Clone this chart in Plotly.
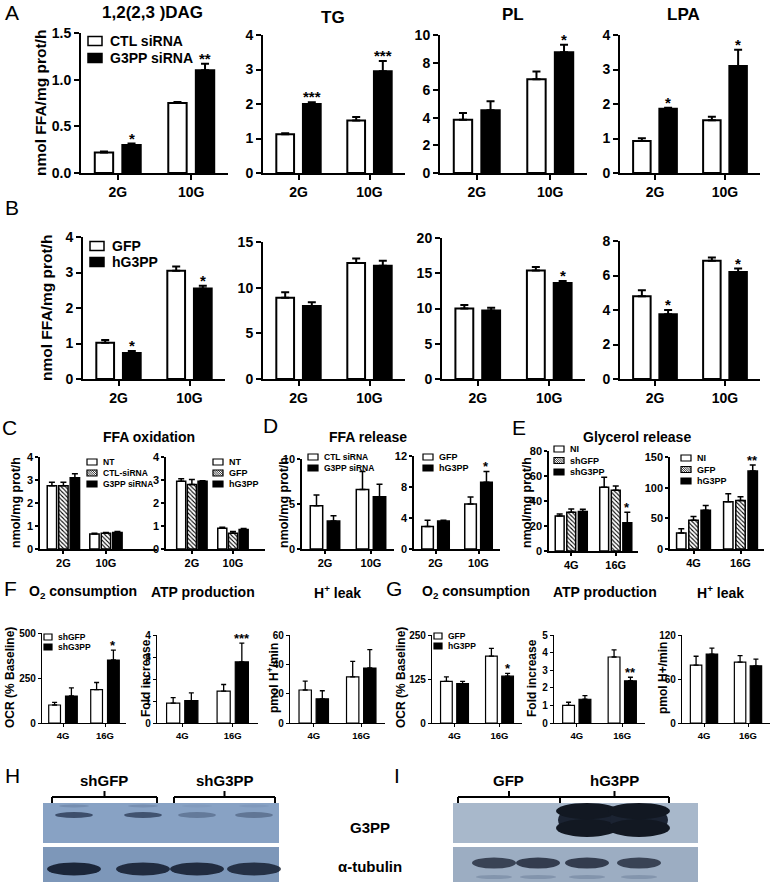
import plotly.graph_objects as go

W, H = 774, 887
FONT = "Liberation Sans, Arial, sans-serif"

# ---------------- data ----------------
glc_low_high = ["2G", "10G"]
glc_4_16 = ["4G", "16G"]

# A : siRNA knock-down (nmol FFA/mg prot/h)
dag_ctl = [0.22, 0.75]; dag_ctl_err = [0.01, 0.01]
dag_kd = [0.30, 1.10]; dag_kd_err = [0.015, 0.07]; dag_kd_sig = ["*", "**"]
tg_ctl = [1.12, 1.52]; tg_ctl_err = [0.03, 0.10]
tg_kd = [2.00, 2.95]; tg_kd_err = [0.05, 0.30]; tg_kd_sig = ["***", "***"]
pl_ctl = [3.85, 6.80]; pl_ctl_err = [0.50, 0.55]
pl_kd = [4.55, 8.75]; pl_kd_err = [0.65, 0.55]; pl_kd_sig = ["", "*"]
lpa_ctl = [0.93, 1.53]; lpa_ctl_err = [0.08, 0.10]
lpa_kd = [1.86, 3.10]; lpa_kd_err = [0.03, 0.47]; lpa_kd_sig = ["*", "*"]

# B : overexpression
dagB_gfp = [1.02, 3.05]; dagB_gfp_err = [0.08, 0.12]
dagB_oe = [0.73, 2.55]; dagB_oe_err = [0.06, 0.08]; dagB_oe_sig = ["*", "*"]
tgB_gfp = [8.9, 12.7]; tgB_gfp_err = [0.6, 0.5]
tgB_oe = [8.0, 12.4]; tgB_oe_err = [0.4, 0.55]
plB_gfp = [10.0, 15.4]; plB_gfp_err = [0.5, 0.5]
plB_oe = [9.7, 13.6]; plB_oe_err = [0.4, 0.3]; plB_oe_sig = ["", "*"]
lpaB_gfp = [4.8, 6.85]; lpaB_gfp_err = [0.35, 0.2]
lpaB_oe = [3.75, 6.2]; lpaB_oe_err = [0.25, 0.2]; lpaB_oe_sig = ["*", "*"]

# C : FFA oxidation
oxC1_nt = [2.75, 0.65]; oxC1_nt_err = [0.15, 0.04]
oxC1_ctl = [2.75, 0.68]; oxC1_ctl_err = [0.15, 0.04]
oxC1_kd = [3.10, 0.72]; oxC1_kd_err = [0.17, 0.04]
oxC2_nt = [2.95, 0.90]; oxC2_nt_err = [0.10, 0.05]
oxC2_gfp = [2.80, 0.68]; oxC2_gfp_err = [0.22, 0.08]
oxC2_oe = [2.95, 0.85]; oxC2_oe_err = [0.02, 0.04]

# D : FFA release
relD1_ctl = [4.8, 6.6]; relD1_ctl_err = [1.2, 2.0]
relD1_kd = [3.1, 5.8]; relD1_kd_err = [0.6, 1.4]
relD2_gfp = [2.9, 5.8]; relD2_gfp_err = [0.8, 0.9]
relD2_oe = [3.6, 8.6]; relD2_oe_err = [0.1, 1.4]; relD2_oe_sig = ["", "*"]

# E : glycerol release
glyE1_ni = [28, 51]; glyE1_ni_err = [1.5, 8]
glyE1_shgfp = [31, 48.5]; glyE1_shgfp_err = [2.5, 3.5]
glyE1_sh = [31.5, 22.5]; glyE1_sh_err = [1.8, 8.5]; glyE1_sh_sig = ["", "*"]
glyE2_ni = [26, 77]; glyE2_ni_err = [7, 13]
glyE2_gfp = [47, 79]; glyE2_gfp_err = [6, 6]
glyE2_oe = [63, 127]; glyE2_oe_err = [8, 10]; glyE2_oe_sig = ["", "**"]

# F : knock-down respiration
ocrF_gfp = [100, 185]; ocrF_gfp_err = [15, 40]
ocrF_sh = [150, 350]; ocrF_sh_err = [45, 55]; ocrF_sh_sig = ["", "*"]
atpF_gfp = [0.90, 1.45]; atpF_gfp_err = [0.25, 0.30]
atpF_sh = [1.02, 2.78]; atpF_sh_err = [0.35, 0.85]; atpF_sh_sig = ["", "***"]
leakF_gfp = [22.5, 31.5]; leakF_gfp_err = [6, 10.5]
leakF_sh = [16.5, 37.5]; leakF_sh_err = [5.5, 12.5]

# G : overexpression respiration
ocrG_gfp = [118, 190]; ocrG_gfp_err = [13, 22]
ocrG_oe = [112, 133]; ocrG_oe_err = [6, 8]; ocrG_oe_sig = ["", "*"]
atpG_gfp = [1.0, 3.75]; atpG_gfp_err = [0.18, 0.40]
atpG_oe = [1.35, 2.40]; atpG_oe_err = [0.20, 0.20]; atpG_oe_sig = ["", "**"]
leakG_gfp = [79, 83]; leakG_gfp_err = [12, 9]
leakG_oe = [94, 78]; leakG_oe_err = [8, 9]

# western blot band intensities (0..1)
h_g3pp_bands = [0.75, 0.70, 0.25, 0.30]
h_tub_bands = [1.0, 0.95, 0.95, 0.90]
i_g3pp_bands = [0.0, 0.0, 1.0, 1.0]
i_tub_bands = [0.9, 0.95, 0.95, 0.9]

# ---------------- helpers ----------------
def fx(p):
    return p / W


def fy(p):
    return 1 - p / H


fig = go.Figure()
annotations = []
shapes = []
axes = {}

STY = {
    "big": dict(alw=2, tl=5, tfs=14, xfs=14, ew=4, et=2, blw=2, sfs=15),
    "mid": dict(alw=1.5, tl=3, tfs=11, xfs=11, ew=3, et=1.5, blw=1.5, sfs=13),
    "small": dict(alw=1.2, tl=3, tfs=10, xfs=9.5, ew=2.5, et=1.3, blw=1.2, sfs=13),
}


def bfont(size, color="black"):
    return dict(family=FONT, size=size, color=color, weight="bold")


def ser(name, y, err, kind, sig=None):
    return dict(name=name, y=y, err=err, kind=kind, sig=sig)


def add_panel(k, dom, cats, series, yr, yt, yfmt, st, bw, bg, xr=(-0.5, 1.5)):
    s = STY[st]
    xa = "x" if k == 1 else f"x{k}"
    ya = "y" if k == 1 else f"y{k}"
    n = len(series)
    total = n * bw + (n - 1) * bg
    for i, sr in enumerate(series):
        off = -total / 2 + i * (bw + bg)
        if sr["kind"] == "white":
            marker = dict(color="white", line=dict(color="black", width=s["blw"]))
        elif sr["kind"] == "black":
            marker = dict(color="black", line=dict(color="black", width=s["blw"]))
        else:
            marker = dict(color="white", line=dict(color="black", width=s["blw"]),
                          pattern=dict(shape="\\", fgcolor="black", bgcolor="white",
                                       size=3, solidity=0.35))
        fig.add_trace(go.Bar(
            x=cats, y=sr["y"], name=sr["name"], width=bw, offset=off,
            xaxis=xa, yaxis=ya, marker=marker, showlegend=False,
            error_y=dict(type="data", symmetric=False, array=sr["err"],
                         arrayminus=[0] * len(sr["err"]), color="black",
                         thickness=s["et"], width=s["ew"]),
        ))
        if sr["sig"]:
            for j, (v, e, t) in enumerate(zip(sr["y"], sr["err"], sr["sig"])):
                if t:
                    annotations.append(dict(
                        x=j + off + bw / 2, y=v + e, xref=xa, yref=ya, text=t,
                        showarrow=False, yanchor="bottom", yshift=-5,
                        font=bfont(s["sfs"])))
    x0, x1, y0, y1 = dom
    axes["xaxis" + ("" if k == 1 else str(k))] = dict(
        domain=[fx(x0), fx(x1)], anchor=ya, type="category", range=list(xr),
        showline=True, linecolor="black", linewidth=s["alw"], ticks="outside",
        ticklen=s["tl"], tickwidth=s["alw"], tickcolor="black",
        tickfont=bfont(s["xfs"]), showgrid=False, zeroline=False, fixedrange=True)
    axes["yaxis" + ("" if k == 1 else str(k))] = dict(
        domain=[fy(y1), fy(y0)], anchor=xa, range=list(yr), tickvals=yt,
        tickformat=yfmt, showline=True, linecolor="black", linewidth=s["alw"],
        ticks="outside", ticklen=s["tl"], tickwidth=s["alw"], tickcolor="black",
        tickfont=bfont(s["tfs"]), showgrid=False, zeroline=False, fixedrange=True)


def text(x, y, t, size, bold=True, angle=0, xanchor="center", yanchor="middle"):
    f = bfont(size) if bold else dict(family=FONT, size=size, color="black")
    annotations.append(dict(x=fx(x), y=fy(y), xref="paper", yref="paper", text=t,
                            showarrow=False, font=f, textangle=angle,
                            xanchor=xanchor, yanchor=yanchor))


def rect(x0, y0, x1, y1, fill, line="black", lw=0):
    shapes.append(dict(type="rect", xref="paper", yref="paper", x0=fx(x0), x1=fx(x1),
                       y0=fy(y1), y1=fy(y0), fillcolor=fill,
                       line=dict(color=line, width=lw), layer="above"))


def seg(x0, y0, x1, y1, lw=1, color="black"):
    shapes.append(dict(type="line", xref="paper", yref="paper", x0=fx(x0), x1=fx(x1),
                       y0=fy(y0), y1=fy(y1), line=dict(color=color, width=lw),
                       layer="above"))


def oval(cx, cy, w, h, color, op=1.0):
    shapes.append(dict(type="circle", xref="paper", yref="paper",
                       x0=fx(cx - w / 2), x1=fx(cx + w / 2), y0=fy(cy + h / 2),
                       y1=fy(cy - h / 2), fillcolor=color, opacity=op,
                       line=dict(width=0), layer="above"))


def legend(x, y, items, bw, bh, step, fs, gap=5, lw=1.2):
    for i, (label, kind) in enumerate(items):
        cy = y + i * step
        if kind == "black":
            rect(x, cy - bh / 2, x + bw, cy + bh / 2, "black", "black", lw)
        else:
            rect(x, cy - bh / 2, x + bw, cy + bh / 2, "white", "black", lw)
            if kind == "hatch":
                s = -bh
                while s < bw:
                    t0, t1 = max(0, -s), min(bh, bw - s)
                    if t1 > t0:
                        seg(x + s + t0, cy - bh / 2 + t0, x + s + t1, cy - bh / 2 + t1, 0.8)
                    s += 2.2
        text(x + bw + gap, cy, label, fs, xanchor="left")


# ---------------- panels ----------------
C2 = glc_low_high
big_w, big_g = 0.25, 0.125

# Row A
add_panel(1, (81, 228, 33, 173), C2,
          [ser("CTL siRNA", dag_ctl, dag_ctl_err, "white"),
           ser("G3PP siRNA", dag_kd, dag_kd_err, "black", dag_kd_sig)],
          (0, 1.5), [0, 0.5, 1.0, 1.5], ".1f", "big", big_w, big_g)
add_panel(2, (263, 405, 35, 173), C2,
          [ser("CTL siRNA", tg_ctl, tg_ctl_err, "white"),
           ser("G3PP siRNA", tg_kd, tg_kd_err, "black", tg_kd_sig)],
          (0, 4), [0, 1, 2, 3, 4], "d", "big", big_w, big_g)
add_panel(3, (440, 587, 35, 173), C2,
          [ser("CTL siRNA", pl_ctl, pl_ctl_err, "white"),
           ser("G3PP siRNA", pl_kd, pl_kd_err, "black", pl_kd_sig)],
          (0, 10), [0, 2, 4, 6, 8, 10], "d", "big", big_w, big_g)
add_panel(4, (620, 760, 35, 173), C2,
          [ser("CTL siRNA", lpa_ctl, lpa_ctl_err, "white"),
           ser("G3PP siRNA", lpa_kd, lpa_kd_err, "black", lpa_kd_sig)],
          (0, 4), [0, 1, 2, 3, 4], "d", "big", big_w, big_g)

# Row B
add_panel(5, (83, 225, 237, 379), C2,
          [ser("GFP", dagB_gfp, dagB_gfp_err, "white"),
           ser("hG3PP", dagB_oe, dagB_oe_err, "black", dagB_oe_sig)],
          (0, 4), [0, 1, 2, 3, 4], "d", "big", big_w, big_g)
add_panel(6, (263, 405, 242, 379), C2,
          [ser("GFP", tgB_gfp, tgB_gfp_err, "white"),
           ser("hG3PP", tgB_oe, tgB_oe_err, "black")],
          (0, 15), [0, 5, 10, 15], "d", "big", big_w, big_g)
add_panel(7, (442, 585, 238, 379), C2,
          [ser("GFP", plB_gfp, plB_gfp_err, "white"),
           ser("hG3PP", plB_oe, plB_oe_err, "black", plB_oe_sig)],
          (0, 20), [0, 5, 10, 15, 20], "d", "big", big_w, big_g)
add_panel(8, (620, 760, 241, 379), C2,
          [ser("GFP", lpaB_gfp, lpaB_gfp_err, "white"),
           ser("hG3PP", lpaB_oe, lpaB_oe_err, "black", lpaB_oe_sig)],
          (0, 8), [0, 2, 4, 6, 8], "d", "big", big_w, big_g)

# Row C / D / E
add_panel(9, (40, 157, 457, 549), C2,
          [ser("NT", oxC1_nt, oxC1_nt_err, "white"),
           ser("CTL-siRNA", oxC1_ctl, oxC1_ctl_err, "hatch"),
           ser("G3PP siRNA", oxC1_kd, oxC1_kd_err, "black")],
          (0, 4), [0, 1, 2, 3, 4], "d", "mid", 0.22, 0.05, xr=(-0.55, 2.2))
add_panel(10, (166, 265, 457, 549), C2,
          [ser("NT", oxC2_nt, oxC2_nt_err, "white"),
           ser("GFP", oxC2_gfp, oxC2_gfp_err, "hatch"),
           ser("hG3PP", oxC2_oe, oxC2_oe_err, "black")],
          (0, 4), [0, 1, 2, 3, 4], "d", "mid", 0.22, 0.04, xr=(-0.63, 1.78))
add_panel(11, (302, 394, 459, 549), C2,
          [ser("CTL siRNA", relD1_ctl, relD1_ctl_err, "white"),
           ser("G3PP siRNA", relD1_kd, relD1_kd_err, "black")],
          (0, 10), [0, 5, 10], "d", "mid", 0.27, 0.1)
add_panel(12, (414, 500, 456, 549), C2,
          [ser("GFP", relD2_gfp, relD2_gfp_err, "white"),
           ser("hG3PP", relD2_oe, relD2_oe_err, "black", relD2_oe_sig)],
          (0, 12), [0, 4, 8, 12], "d", "mid", 0.27, 0.1)
add_panel(13, (549, 638, 451, 551), glc_4_16,
          [ser("NI", glyE1_ni, glyE1_ni_err, "white"),
           ser("shGFP", glyE1_shgfp, glyE1_shgfp_err, "hatch"),
           ser("shG3PP", glyE1_sh, glyE1_sh_err, "black", glyE1_sh_sig)],
          (0, 80), [0, 20, 40, 60, 80], "d", "mid", 0.2, 0.06)
add_panel(14, (670, 764, 457, 549), glc_4_16,
          [ser("NI", glyE2_ni, glyE2_ni_err, "white"),
           ser("GFP", glyE2_gfp, glyE2_gfp_err, "hatch"),
           ser("hG3PP", glyE2_oe, glyE2_oe_err, "black", glyE2_oe_sig)],
          (0, 150), [0, 50, 100, 150], "d", "mid", 0.2, 0.06)

# Row F / G
add_panel(15, (42, 126, 633, 723), glc_4_16,
          [ser("shGFP", ocrF_gfp, ocrF_gfp_err, "white"),
           ser("shG3PP", ocrF_sh, ocrF_sh_err, "black", ocrF_sh_sig)],
          (0, 500), [0, 250, 500], "d", "small", 0.28, 0.12)
add_panel(16, (157, 258, 635, 723), glc_4_16,
          [ser("shGFP", atpF_gfp, atpF_gfp_err, "white"),
           ser("shG3PP", atpF_sh, atpF_sh_err, "black", atpF_sh_sig)],
          (0, 4), [0, 1, 2, 3, 4], "d", "small", 0.26, 0.1)
add_panel(17, (290, 385, 635, 723), glc_4_16,
          [ser("shGFP", leakF_gfp, leakF_gfp_err, "white"),
           ser("shG3PP", leakF_sh, leakF_sh_err, "black")],
          (0, 60), [0, 20, 40, 60], "d", "small", 0.26, 0.1)
add_panel(18, (432, 522, 635, 723), glc_4_16,
          [ser("GFP", ocrG_gfp, ocrG_gfp_err, "white"),
           ser("hG3PP", ocrG_oe, ocrG_oe_err, "black", ocrG_oe_sig)],
          (0, 250), [0, 125, 250], "d", "small", 0.26, 0.1)
add_panel(19, (554, 645, 635, 723), glc_4_16,
          [ser("GFP", atpG_gfp, atpG_gfp_err, "white"),
           ser("hG3PP", atpG_oe, atpG_oe_err, "black", atpG_oe_sig)],
          (0, 5), [0, 1, 2, 3, 4, 5], "d", "small", 0.26, 0.1)
add_panel(20, (682, 770, 635, 723), glc_4_16,
          [ser("GFP", leakG_gfp, leakG_gfp_err, "white"),
           ser("hG3PP", leakG_oe, leakG_oe_err, "black")],
          (0, 120), [0, 60, 120], "d", "small", 0.26, 0.1)

# ---------------- titles, letters, axis labels ----------------
for lab, x, y in [("A", 12, 13), ("B", 12, 208), ("C", 9, 427), ("D", 270, 425),
                  ("E", 519, 427), ("F", 10, 588), ("G", 394, 588), ("H", 12, 775),
                  ("I", 397, 775)]:
    text(x, y, lab, 21, bold=False)

for t, x, y in [("1,2(2,3 )DAG", 152, 13), ("TG", 333, 17), ("PL", 513, 15),
                ("LPA", 683, 15)]:
    text(x, y, t, 17)
for t, x, y in [("FFA oxidation", 149, 437), ("FFA release", 368, 437),
                ("Glycerol release", 637, 437)]:
    text(x, y, t, 14)
for t, x in [("O<sub>2</sub> consumption", 83), ("ATP production", 203),
             ("H<sup>+</sup> leak", 337), ("O<sub>2</sub> consumption", 476),
             ("ATP production", 605), ("H<sup>+</sup> leak", 720)]:
    text(x, 592, t, 14)

text(41, 103, "nmol FFA/mg prot/h", 15.5, angle=-90)
text(46, 308, "nmol FFA/mg prot/h", 15.5, angle=-90)
for x in (16, 284, 527):
    text(x, 503, "nmol/mg prot/h", 12.5, angle=-90)
for t, x in [("OCR (% Baseline)", 10), ("Fold increase", 146),
             ("pmol H<sup>+</sup>/min", 273), ("OCR (% Baseline)", 401),
             ("Fold increase", 532), ("pmol H+/min", 663)]:
    text(x, 678, t, 12, angle=-90)

# ---------------- legends ----------------
legend(88, 41, [("CTL siRNA", "white"), ("G3PP siRNA", "black")], 14, 9, 17, 14, gap=6, lw=1.5)
legend(90, 246, [("GFP", "white"), ("hG3PP", "black")], 14, 9, 16, 14, gap=6, lw=1.5)
legend(87, 462, [("NT", "white"), ("CTL-siRNA", "hatch"), ("G3PP siRNA", "black")], 10, 6, 11, 8.5, gap=4)
legend(213, 462, [("NT", "white"), ("GFP", "hatch"), ("hG3PP", "black")], 10, 6, 11, 9, gap=4)
legend(308, 457, [("CTL siRNA", "white"), ("G3PP siRNA", "black")], 10, 6, 11, 8.5, gap=4)
legend(423, 457, [("GFP", "white"), ("hG3PP", "black")], 10, 6, 11, 9, gap=4)
legend(554, 449, [("NI", "white"), ("shGFP", "hatch"), ("shG3PP", "black")], 10, 6, 11.5, 9, gap=4)
legend(681, 458, [("NI", "white"), ("GFP", "hatch"), ("hG3PP", "black")], 10, 6, 11.5, 9, gap=4)
legend(44, 637, [("shGFP", "white"), ("shG3PP", "black")], 8, 6, 10, 8.5, gap=4)
legend(434, 636, [("GFP", "white"), ("hG3PP", "black")], 8, 6, 10, 8.5, gap=4)

# ---------------- western blots ----------------
def bracket(x0, x1, y, lw=2):
    seg(x0, y + 6, x0, y, lw)
    seg(x0, y, x1, y, lw)
    seg(x1, y, x1, y + 6, lw)
    seg((x0 + x1) / 2, y, (x0 + x1) / 2, y - 6, lw)

# H
text(104, 780, "shGFP", 15)
text(225, 780, "shG3PP", 15)
bracket(52, 157, 797)
bracket(174, 275, 797)
rect(43, 803, 279, 843, "#88a2c4")
rect(43, 847, 279, 882, "#7d97b9")
for cx, a in zip([74, 143, 197, 254], h_g3pp_bands):
    oval(cx, 815, 38, 6, "#1f2d47", 0.15 + 0.75 * a)
    oval(cx, 806, 30, 3, "#2a3a58", 0.25 * a)
for cx, a in zip([74, 143, 197, 254], h_tub_bands):
    oval(cx, 869, 54, 13, "#111a2b", 0.9 * a)

# I
text(508, 780, "GFP", 15)
text(614, 780, "hG3PP", 15)
bracket(458, 560, 797)
bracket(560, 669, 797)
rect(453, 803, 698, 843, "#a8b8cb")
rect(453, 847, 698, 882, "#9cadc2")
for cx, a in zip([494, 538, 587, 639], i_g3pp_bands):
    if a > 0:
        oval(cx, 820, 58, 32, "#1b2332", a)
        oval(cx, 811, 62, 16, "#121822", a)
        oval(cx, 828, 62, 18, "#121822", a)
for cx, a in zip([494, 538, 587, 639], i_tub_bands):
    oval(cx, 863, 44, 11, "#1a2233", 0.85 * a)
    oval(cx, 877, 36, 4, "#5a6d88", 0.4 * a)

text(370, 827, "G3PP", 15)
text(370, 866, "α-tubulin", 15)

fig.update_layout(
    width=W, height=H, margin=dict(l=0, r=0, t=0, b=0),
    paper_bgcolor="white", plot_bgcolor="white", template="none",
    barmode="overlay", showlegend=False, font=dict(family=FONT, color="black"),
    annotations=annotations, shapes=shapes, **axes,
)

fig.write_html("out.html", config={"displayModeBar": False},
               post_script="document.body.style.margin='0';")
